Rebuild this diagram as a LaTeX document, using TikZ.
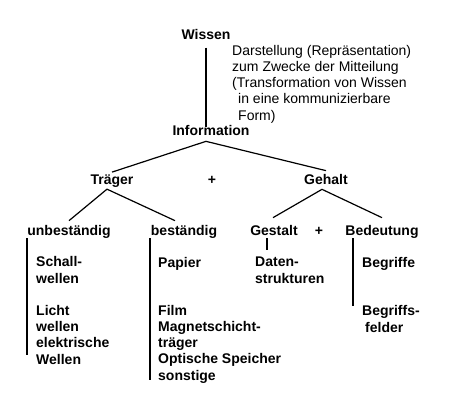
\documentclass[tikz,border=0pt]{standalone}
\usepackage{fontspec}
\setmainfont{Liberation Sans}
\usetikzlibrary{positioning}

\begin{document}
\begin{tikzpicture}[
    x=1pt, y=-1pt,
    font=\fontsize{14}{16.25}\selectfont,
    head/.style={font=\fontsize{14}{16.25}\selectfont\bfseries, inner sep=3pt,
                 anchor=base},
    leaf/.style={font=\fontsize{14}{16.25}\selectfont\bfseries, inner sep=0pt,
                 anchor=base west, align=left},
    edge/.style={line width=1.2pt},
]
\useasboundingbox[fill=white] (0,0) rectangle (451,413);

\node[head] (wissen) at (206,39.3) {Wissen};
\node[head] (info) at (211,135) {Information};
\node[inner sep=0pt, anchor=base west, align=left] (desc) at (232,120)
    {Darstellung (Repräsentation)\\zum Zwecke der Mitteilung\\(Transformation von Wissen\\
     \hspace*{6pt}in eine kommunizierbare\\\hspace*{6pt}Form)};

\node[head] (trager) at (112,184) {Träger};
\node[head] (plusA) at (212,184) {+};
\node[head] (gehalt) at (326,184) {Gehalt};

\node[head] (unbest) at (69,235) {unbeständig};
\node[head] (best) at (184,235) {beständig};
\node[head] (gestalt) at (274,235) {Gestalt};
\node[head] (plusB) at (319,235) {+};
\node[head] (bedeutung) at (382,235) {Bedeutung};

% base anchor of a multi-line node = last line
\node[leaf] (schall) at (36,283) {Schall-\\wellen};
\node[leaf] (licht) at (36,364) {Licht\\wellen\\elektrische\\Wellen};
\node[leaf] (papier) at (158,267) {Papier};
\node[leaf] (film) at (158,380)
    {Film\\Magnetschicht-\\träger\\Optische Speicher\\sonstige};
\node[leaf] (daten) at (255,283) {Daten-\\strukturen};
\node[leaf] (begriffe) at (362,267) {Begriffe};
\node[leaf] (felder) at (362,332) {Begriffs-\\\hspace*{3pt}felder};

\coordinate (infoFork) at ([yshift=-3pt]info.south -| wissen.south);
\coordinate (tragerFork) at ([xshift=-5pt,yshift=1pt]trager.south);
\coordinate (gehaltFork) at ([xshift=-4pt,yshift=-2pt]gehalt.south);
\coordinate (unbestEnd) at (27,355);
\coordinate (bestEnd) at (150,380);
\coordinate (gestaltEnd) at (267,250);
\coordinate (bedeutungEnd) at (353,306);

\draw[edge] ([yshift=-5pt]wissen.south) -- ([yshift=-5pt]wissen.south |- info.north);
\draw[edge] ([yshift=-1pt]trager.north) -- (infoFork) -- (gehalt.north);
\draw[edge] ([yshift=1pt]unbest.north) -- (tragerFork) -- ([xshift=-9pt,yshift=1pt]best.north);
\draw[edge] ([xshift=-1pt,yshift=4pt]gestalt.north) -- (gehaltFork)
    -- ([yshift=4pt]bedeutung.north);

\draw[edge] ([yshift=3pt]unbestEnd |- unbest.south) -- (unbestEnd);
\draw[edge] ([yshift=3pt]bestEnd |- best.south) -- (bestEnd);
\draw[edge] ([yshift=3pt]gestaltEnd |- best.south) -- (gestaltEnd);
\draw[edge] ([yshift=3pt]bedeutungEnd |- best.south) -- (bedeutungEnd);
\end{tikzpicture}
\end{document}
